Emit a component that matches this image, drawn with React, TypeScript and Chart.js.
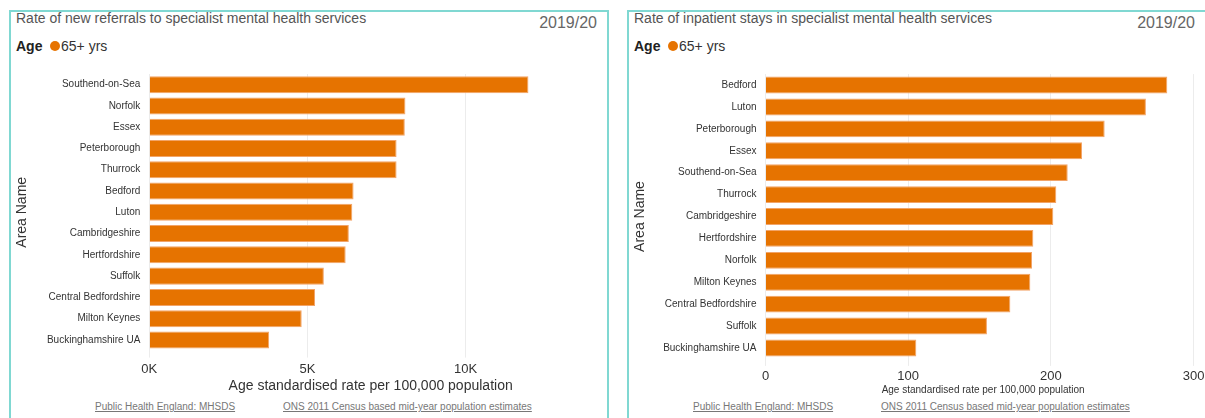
import React, { useEffect, useRef } from 'react';
import { Chart, registerables } from 'chart.js';
Chart.register(...registerables);

const referralAreas = ['Southend-on-Sea', 'Norfolk', 'Essex', 'Peterborough', 'Thurrock', 'Bedford', 'Luton', 'Cambridgeshire', 'Hertfordshire', 'Suffolk', 'Central Bedfordshire', 'Milton Keynes', 'Buckinghamshire UA'];
const referralRates = [11990, 8100, 8080, 7820, 7820, 6460, 6420, 6310, 6210, 5520, 5240, 4820, 3790];
const referralTicks = [0, 5000, 10000];
const referralTickLabels = ['0K', '5K', '10K'];

const inpatientAreas = ['Bedford', 'Luton', 'Peterborough', 'Essex', 'Southend-on-Sea', 'Thurrock', 'Cambridgeshire', 'Hertfordshire', 'Norfolk', 'Milton Keynes', 'Central Bedfordshire', 'Suffolk', 'Buckinghamshire UA'];
const inpatientRates = [281.6, 266.6, 237.7, 221.8, 211.8, 203.8, 201.7, 187.7, 186.8, 185.6, 171.6, 155.2, 105.7];
const inpatientTicks = [0, 100, 200, 300];
const inpatientTickLabels = ['0', '100', '200', '300'];

const FONT = '"Liberation Sans", Arial, sans-serif';
const BAR = '#e67300';
const BAR_EDGE = '#f2a468';

type BarProps = {
  labels: string[];
  values: number[];
  max: number;
  tickValues: number[];
  tickLabels: string[];
  left: number; top: number; width: number; height: number;
  yWidth: number; padTop: number; padRight: number;
  barPct: number;
  tickSize: number; tickPad: number;
  titleSize: number; titlePad: { top: number; bottom: number };
  yTitlePadTop: number;
};

function BarChart(p: BarProps) {
  const ref = useRef<HTMLCanvasElement>(null);
  useEffect(() => {
    if (!ref.current) return;
    const chart = new Chart(ref.current, {
      type: 'bar',
      data: {
        labels: p.labels,
        datasets: [{
          data: p.values,
          backgroundColor: BAR,
          borderColor: BAR_EDGE,
          borderWidth: 1,
          barPercentage: p.barPct,
          categoryPercentage: 1,
        }],
      },
      options: {
        indexAxis: 'y',
        animation: false,
        responsive: false,
        maintainAspectRatio: false,
        layout: { padding: { top: p.padTop, right: p.padRight, bottom: 0, left: 0 } },
        plugins: { legend: { display: false }, tooltip: { enabled: false } },
        scales: {
          x: {
            min: 0,
            max: p.max,
            afterBuildTicks: (s: any) => { s.ticks = p.tickValues.map((v) => ({ value: v })); },
            ticks: {
              font: { family: FONT, size: p.tickSize },
              color: '#333',
              padding: p.tickPad,
              maxRotation: 0,
              autoSkip: false,
              callback: (v: any) => {
                const i = p.tickValues.indexOf(Number(v));
                return i >= 0 ? p.tickLabels[i] : '';
              },
            },
            grid: { color: '#ececec', tickColor: '#ececec', tickLength: 7, drawTicks: true },
            border: { display: false },
            title: {
              display: true,
              text: 'Age standardised rate per 100,000 population',
              font: { family: FONT, size: p.titleSize },
              color: '#333',
              padding: p.titlePad,
            },
            afterFit: (s: any) => { s.paddingLeft = 0; s.paddingRight = 0; },
          },
          y: {
            grid: { display: false, drawTicks: false },
            border: { display: false },
            ticks: { font: { family: FONT, size: 10 }, color: '#333', padding: 9, autoSkip: false },
            title: {
              display: true,
              text: 'Area Name',
              font: { family: FONT, size: 14 },
              color: '#333',
              padding: { top: p.yTitlePadTop, bottom: 4 },
            },
            afterFit: (s: any) => { s.width = p.yWidth; s.paddingTop = 0; s.paddingBottom = 0; },
          },
        },
      },
    } as any);
    return () => chart.destroy();
  }, []);
  return (
    <canvas
      ref={ref}
      width={p.width}
      height={p.height}
      style={{ position: 'absolute', left: p.left, top: p.top, width: p.width, height: p.height }}
    />
  );
}

function Txt(props: { left?: number; right?: number; top: number; size: number; color: string; bold?: boolean; underline?: boolean; children: any }) {
  return (
    <div style={{
      position: 'absolute', left: props.left, right: props.right, top: props.top,
      fontSize: props.size, lineHeight: `${Math.round(props.size * 1.15)}px`, color: props.color,
      fontWeight: props.bold ? 'bold' : 'normal', whiteSpace: 'nowrap',
      textDecoration: props.underline ? 'underline' : 'none',
    }}>{props.children}</div>
  );
}

function Header(props: { x: number; rightEdge: number; title: string }) {
  return (
    <>
      <Txt left={props.x} top={10} size={14} color="#555">{props.title}</Txt>
      <Txt right={1205 - props.rightEdge} top={14} size={16} color="#666">2019/20</Txt>
      <Txt left={props.x} top={38} size={14} color="#222" bold>Age</Txt>
      <div style={{ position: 'absolute', left: props.x + 34, top: 41, width: 10, height: 10, borderRadius: '50%', background: BAR }} />
      <Txt left={props.x + 45} top={38} size={14} color="#333">65+ yrs</Txt>
    </>
  );
}

export default function App() {
  return (
    <div style={{ position: 'fixed', left: 0, top: 0, width: 1205, height: 418, overflow: 'hidden', background: '#fff', fontFamily: FONT }}>
      <div style={{ position: 'absolute', left: 8.5, top: 10, width: 600, height: 430, border: '2px solid #80d8d2', boxSizing: 'border-box' }} />
      <div style={{ position: 'absolute', left: 626.5, top: 10, width: 600, height: 430, border: '2px solid #80d8d2', boxSizing: 'border-box' }} />

      <Header x={16} rightEdge={597} title="Rate of new referrals to specialist mental health services" />
      <Header x={634} rightEdge={1195} title="Rate of inpatient stays in specialist mental health services" />

      <BarChart
        labels={referralAreas} values={referralRates} max={14000}
        tickValues={referralTicks} tickLabels={referralTickLabels}
        left={10} top={62} width={582} height={337}
        yWidth={139.3} padTop={12} padRight={0} barPct={0.8}
        tickSize={13} tickPad={4} titleSize={14} titlePad={{ top: -3, bottom: 4 }}
        yTitlePadTop={4}
      />
      <BarChart
        labels={inpatientAreas} values={inpatientRates} max={305}
        tickValues={inpatientTicks} tickLabels={inpatientTickLabels}
        left={630} top={62} width={585} height={337}
        yWidth={135.5} padTop={12.1} padRight={14.3} barPct={0.77}
        tickSize={13} tickPad={3} titleSize={10} titlePad={{ top: -3, bottom: 2.5 }}
        yTitlePadTop={2}
      />

      <Txt left={95} top={401} size={10} color="#777" underline>Public Health England: MHSDS</Txt>
      <Txt left={283} top={401} size={10} color="#777" underline>ONS 2011 Census based mid-year population estimates</Txt>
      <Txt left={693} top={401} size={10} color="#777" underline>Public Health England: MHSDS</Txt>
      <Txt left={881} top={401} size={10} color="#777" underline>ONS 2011 Census based mid-year population estimates</Txt>
    </div>
  );
}
